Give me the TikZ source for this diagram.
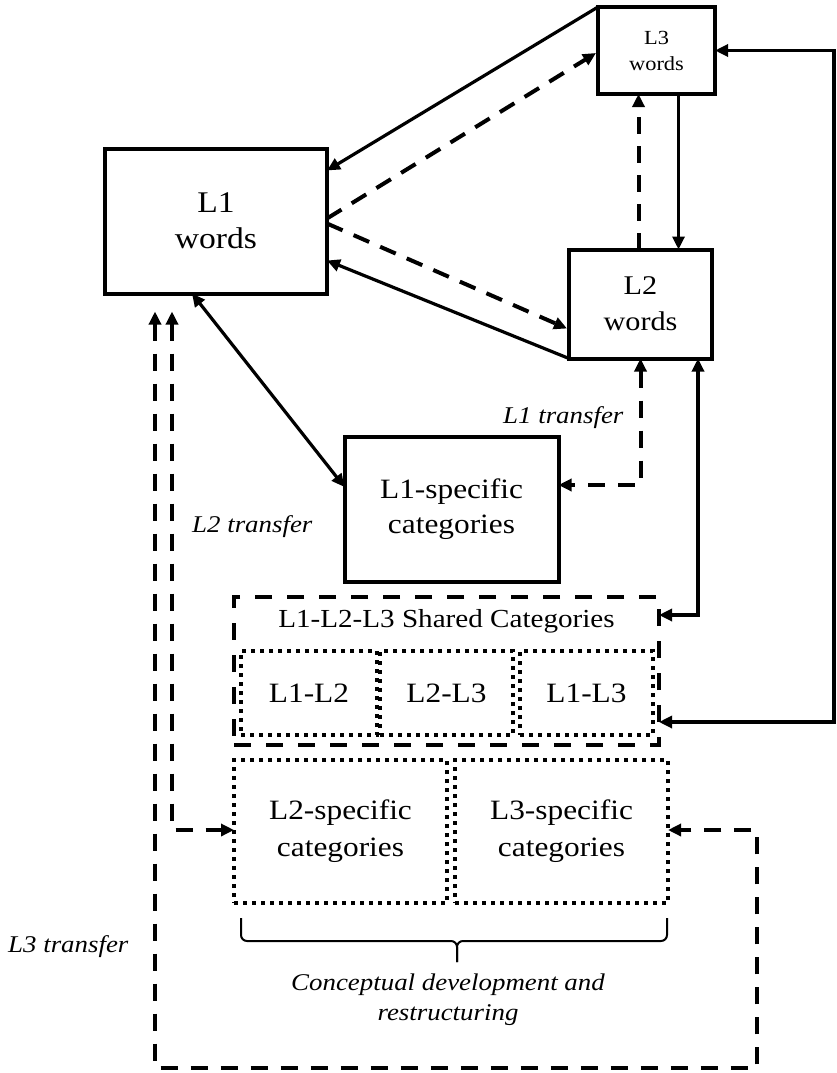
\documentclass[tikz,border=0pt]{standalone}
\usepackage{fontspec}
\setmainfont{Liberation Serif}[FakeStretch=1.12]
\usetikzlibrary{arrows.meta,calc}

\tikzset{
  wordbox/.style={draw, line width=4pt, inner sep=0pt, outer sep=0pt, align=center},
  dashbox/.style={draw, line width=4pt, inner sep=0pt, outer sep=0pt, dash pattern=on 17pt off 15pt},
  dotbox/.style={draw, line width=4pt, inner sep=0pt, outer sep=0pt, align=center, dash pattern=on 4pt off 5pt},
  tip/.tip={Triangle[length=13pt,width=12pt]},
  conn/.style={line width=3.2pt, -tip},
  conntwo/.style={line width=3.2pt, tip-tip},
  dconn/.style={line width=4pt, dash pattern=on 17pt off 12pt, -tip},
  dconntwo/.style={line width=4pt, dash pattern=on 17pt off 13pt, tip-tip},
  label/.style={inner sep=0pt, font=\fontsize{24}{29}\selectfont\itshape},
}

\begin{document}
\begin{tikzpicture}[x=1pt,y=-1pt]
\useasboundingbox (0,0) rectangle (836,1073);

% word stores
\node[wordbox, minimum width=222pt, minimum height=145pt, font=\fontsize{30}{36}\selectfont]
  (l1) at (216,221) {L1\\words};
\node[wordbox, minimum width=117pt, minimum height=87pt, font=\fontsize{20}{26}\selectfont]
  (l3) at (656.5,50.5) {L3\\words};
\node[wordbox, minimum width=143pt, minimum height=109pt, font=\fontsize{27}{36}\selectfont]
  (l2) at (640.5,304) {L2\\words};

% conceptual stores
\node[wordbox, minimum width=214pt, minimum height=145pt, font=\fontsize{28}{35}\selectfont]
  (l1spec) at (451.5,509.5) {L1-specific\\categories};
\node[dashbox, minimum width=425pt, minimum height=148pt] (shared) at (446.5,671) {};
\node[inner sep=0pt, anchor=base, font=\fontsize{26}{30}\selectfont]
  (sharedtitle) at (446.5,627) {L1-L2-L3 Shared Categories};
\node[dotbox, minimum width=136pt, minimum height=84pt, font=\fontsize{28}{34}\selectfont]
  (s12) at (309,693) {L1-L2};
\node[dotbox, minimum width=133pt, minimum height=84pt, font=\fontsize{28}{34}\selectfont]
  (s23) at (446.5,693) {L2-L3};
\node[dotbox, minimum width=133pt, minimum height=84pt, font=\fontsize{28}{34}\selectfont]
  (s13) at (586.5,693) {L1-L3};
\node[dotbox, minimum width=213pt, minimum height=143pt, font=\fontsize{28}{37}\selectfont]
  (l2spec) at (340.5,831.5) {L2-specific\\categories};
\node[dotbox, minimum width=213pt, minimum height=143pt, font=\fontsize{28}{37}\selectfont]
  (l3spec) at (561.5,831.5) {L3-specific\\categories};

% labels
\node[label, anchor=base west] (t1) at (503,423) {L1 transfer};
\node[label, anchor=base west] (t2) at (192,532) {L2 transfer};
\node[label, anchor=base west] (t3) at (8,952) {L3 transfer};
\node[label, align=center, font=\fontsize{24}{30}\selectfont\itshape]
  (dev) at (448,1000) {Conceptual development and\\restructuring};

% brace under the specific categories
\draw[line width=2pt, rounded corners=6pt]
  ($(l2spec.south west)+(7,15)$) -- ($(l2spec.south west)+(7,38)$) -- ($(l2spec.south east)+(10,38)$) -- ($(l2spec.south east)+(10,59)$);
\draw[line width=2pt, rounded corners=6pt]
  ($(l3spec.south east)+(-1,15)$) -- ($(l3spec.south east)+(-1,38)$) -- ($(l2spec.south east)+(10,38)$) -- ($(l2spec.south east)+(10,59)$);

% links between word stores
\draw[conn] (l3.north west) -- ($(l1.north east)+(0,22)$);
\draw[dconn] ($(l1.north east)+(0,70)$) -- ($(l3.north west)+(-2,46)$);
\draw[dconn] ($(l1.north east)+(0,75)$) -- ($(l2.north west)+(-2,79)$);
\draw[conn] (l2.south west) -- ($(l1.north east)+(0,112)$);

\coordinate (d1) at ($(l3.south)+(-18,0)$);
\coordinate (s1) at ($(l3.south)+(22,0)$);
\draw[dconn] (d1 |- l2.north) -- (d1);
\draw[conn] (s1) -- (s1 |- l2.north);

% L1 words to L1-specific categories
\draw[conntwo] ($(l1.south west)+(87,0)$) -- ($(l1spec.north west)+(0,50)$);

% L1 transfer
\coordinate (p1) at ($(l1spec.north east)+(0,48)$);
\draw[dconntwo] (l2.south) -- (l2.south |- p1) -- (p1);

% L2 words to shared categories
\coordinate (p2) at ($(l2.south east)+(-14,0)$);
\coordinate (p3) at ($(shared.north east)+(0,18)$);
\draw[conntwo] (p2) -- (p2 |- p3) -- (p3);

% L3 words to shared categories
\coordinate (rt) at (834,0);
\coordinate (p5) at ($(shared.south east)+(0,-23)$);
\draw[conntwo] (l3.east) -- (l3.east -| rt) -- (rt |- p5) -- (p5);

% L2 transfer
\coordinate (q2) at ($(l1.south west)+(67,18)$);
\coordinate (p6) at ($(l2spec.north west)+(0,70)$);
\draw[dconntwo] (q2) -- (q2 |- p6) -- (p6);

% L3 transfer
\coordinate (q3) at ($(l1.south west)+(50,18)$);
\coordinate (bot) at (0,1068);
\coordinate (rx) at (757,0);
\coordinate (p7) at ($(l3spec.north east)+(0,70)$);
\draw[dconntwo] (q3) -- (q3 |- bot) -- (rx |- bot) -- (rx |- p7) -- (p7);
\end{tikzpicture}
\end{document}
